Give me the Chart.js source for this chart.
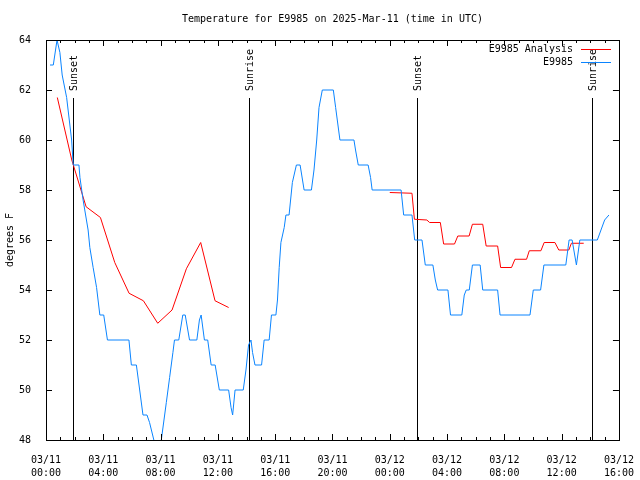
<!DOCTYPE html>
<html>
<head>
<meta charset="utf-8">
<title>Temperature for E9985</title>
<script src="https://cdn.jsdelivr.net/npm/chart.js@4"></script>
<style>
  html, body { margin: 0; padding: 0; background: #ffffff; }
  #chart { display: block; }
</style>
</head>
<body>
<canvas id="chart" width="640" height="480"></canvas>
<script>
// hours since 03/11 00:00 UTC
const chartTitle = 'Temperature for E9985 on 2025-Mar-11 (time in UTC)';
const yTitle = 'degrees F';

const tickDates = ['03/11', '03/11', '03/11', '03/11', '03/11', '03/11', '03/12', '03/12', '03/12', '03/12', '03/12'];
const tickTimes = ['00:00', '04:00', '08:00', '12:00', '16:00', '20:00', '00:00', '04:00', '08:00', '12:00', '16:00'];

const analysisHours = [0.79, 1.8, 2.8, 3.8, 4.8, 5.8, 6.8, 7.8, 8.8, 9.8, 10.8, 11.8, 12.75,
  18,
  24.0, 25.55, 25.72, 26.59, 26.78, 27.53, 27.76, 28.52, 28.75, 29.54,
  29.77, 30.49, 30.73, 31.53, 31.74, 32.5, 32.74, 33.55, 33.74, 34.55,
  34.78, 35.53, 35.8, 36.5, 36.68, 37.54];
const analysisTemps = [61.7, 59.2, 57.33, 56.9, 55.1, 53.87, 53.57, 52.67, 53.2, 54.85, 55.9, 53.57, 53.3,
  null,
  57.9, 57.87, 56.83, 56.8, 56.7, 56.7, 55.84, 55.84, 56.16, 56.16,
  56.63, 56.63, 55.76, 55.76, 54.9, 54.9, 55.23, 55.23, 55.57, 55.57,
  55.9, 55.9, 55.6, 55.6, 55.87, 55.87];

const stationHours = [0.28, 0.51, 0.77, 0.83, 0.97, 1.13, 1.44, 1.79, 1.90, 2.30,
  2.37, 2.59, 2.94, 3.06, 3.29, 3.53, 3.76, 4.03, 4.29, 5.79,
  5.96, 6.31, 6.54, 6.77, 7.05, 7.23, 7.53, 7.78, 8.05, 8.40,
  8.63, 8.86, 8.97, 9.27, 9.55, 9.72, 9.90, 10.02, 10.53, 10.71,
  10.83, 11.06, 11.29, 11.53, 11.81, 12.10, 12.75, 12.92, 13.03, 13.20,
  13.77, 13.96, 14.14, 14.31, 14.42, 14.59, 15.05, 15.23, 15.58, 15.74,
  16.05, 16.16, 16.28, 16.40, 16.63, 16.75, 16.97, 17.20, 17.48, 17.74,
  18.02, 18.53, 18.71, 18.90, 19.06, 19.29, 20.06, 20.22, 20.52, 21.50,
  21.61, 21.80, 22.49, 22.66, 22.77, 24.79, 24.97, 25.55, 25.74, 26.25,
  26.48, 27.01, 27.18, 27.34, 28.06, 28.24, 29.03, 29.20, 29.34, 29.55,
  29.77, 30.31, 30.49, 31.53, 31.70, 33.79, 34.02, 34.53, 34.76, 36.29,
  36.52, 36.73, 37.03, 37.27, 38.49, 39.00, 39.30];
const stationTemps = [63, 63, 64, 64, 63.5, 62.6, 61.7, 60, 59, 59,
  58.5, 57.6, 56.4, 55.7, 54.9, 54.1, 53, 53, 52, 52,
  51, 51, 50, 49, 49, 48.7, 48, 47.3, 48, 49.5,
  50.5, 51.5, 52, 52, 53, 53, 52.4, 52, 52, 52.8,
  53, 52, 52, 51, 51, 50, 50, 49.3, 49, 50,
  50, 50.8, 51.8, 52, 51.5, 51, 51, 52, 52, 53,
  53, 53.6, 54.9, 55.9, 56.5, 57, 57, 58.3, 59, 59,
  58, 58, 58.8, 60, 61.3, 62, 62, 61.3, 60, 60,
  59.6, 59, 59, 58.5, 58, 58, 57, 57, 56, 56,
  55, 55, 54.4, 54, 54, 53, 53, 53.8, 54, 54,
  55, 55, 54, 54, 53, 53, 54, 54, 55, 55,
  56, 56, 55, 56, 56, 56.8, 57];

const sunHours = [1.88, 14.14, 25.93, 38.12];
const sunLabels = ['Sunset', 'Sunrise', 'Sunset', 'Sunrise'];

document.addEventListener('DOMContentLoaded', function() {
    const FONT = '10px "DejaVu Sans Mono", "Liberation Mono", monospace';

    function toPoints(xs, ys) {
        return xs.map((x, i) => ({ x: x, y: ys[i] }));
    }

    // gnuplot style frame: border, inward ticks, sun markers, title and key
    const frame = {
        id: 'frame',
        beforeDatasetsDraw(chart) {
            const ctx = chart.ctx;
            const area = chart.chartArea;
            const xs = chart.scales.x;
            ctx.save();
            ctx.strokeStyle = '#000';
            ctx.lineWidth = 1;
            ctx.fillStyle = '#000';
            ctx.font = FONT;
            for (let i = 0; i < sunHours.length; i++) {
                const px = Math.round(xs.getPixelForValue(sunHours[i])) + 0.5;
                ctx.beginPath();
                ctx.moveTo(px, 98);
                ctx.lineTo(px, area.bottom);
                ctx.stroke();
                ctx.save();
                ctx.translate(px + 1, 91);
                ctx.rotate(-Math.PI / 2);
                ctx.textAlign = 'left';
                ctx.textBaseline = 'middle';
                ctx.fillText(sunLabels[i], 0, 0);
                ctx.restore();
            }
            ctx.restore();
        },
        afterDraw(chart) {
            const ctx = chart.ctx;
            const area = chart.chartArea;
            const xs = chart.scales.x;
            const ys = chart.scales.y;
            ctx.save();
            ctx.strokeStyle = '#000';
            ctx.lineWidth = 1;
            ctx.strokeRect(Math.round(area.left) + 0.5, Math.round(area.top) + 0.5,
                Math.round(area.right - area.left), Math.round(area.bottom - area.top));

            ctx.beginPath();
            for (let h = 0; h <= 40; h++) {
                const px = Math.round(xs.getPixelForValue(h)) + 0.5;
                const len = (h % 4 === 0) ? 6 : 3;
                ctx.moveTo(px, area.bottom);
                ctx.lineTo(px, area.bottom - len);
                ctx.moveTo(px, area.top);
                ctx.lineTo(px, area.top + len);
            }
            for (let v = 48; v <= 64; v += 2) {
                const py = Math.round(ys.getPixelForValue(v)) + 0.5;
                ctx.moveTo(area.left, py);
                ctx.lineTo(area.left + 6, py);
                ctx.moveTo(area.right, py);
                ctx.lineTo(area.right - 6, py);
            }
            ctx.stroke();

            ctx.fillStyle = '#000';
            ctx.font = FONT;
            ctx.textAlign = 'center';
            ctx.textBaseline = 'middle';
            ctx.fillText(chartTitle, (area.left + area.right) / 2, 19);

            // key
            const sets = chart.data.datasets;
            for (let i = 0; i < sets.length; i++) {
                const y = 49 + i * 13;
                ctx.textAlign = 'right';
                ctx.fillStyle = '#000';
                ctx.fillText(sets[i].label, 573, y);
                ctx.strokeStyle = sets[i].borderColor;
                ctx.beginPath();
                ctx.moveTo(581, y + 0.5);
                ctx.lineTo(611, y + 0.5);
                ctx.stroke();
            }
            ctx.restore();
        }
    };

    const ctx = document.getElementById('chart').getContext('2d');
    new Chart(ctx, {
        type: 'line',
        data: {
            datasets: [{
                label: 'E9985 Analysis',
                data: toPoints(analysisHours, analysisTemps),
                borderColor: '#ff0000',
                borderWidth: 1,
                pointRadius: 0,
                spanGaps: false,
                tension: 0,
                order: 1
            }, {
                label: 'E9985',
                data: toPoints(stationHours, stationTemps),
                borderColor: '#0a84ff',
                borderWidth: 1,
                pointRadius: 0,
                tension: 0,
                order: 0
            }]
        },
        options: {
            responsive: false,
            animation: false,
            devicePixelRatio: 1,
            layout: { padding: { top: 40, right: 19, left: 0, bottom: 0 } },
            plugins: {
                legend: { display: false },
                title: { display: false },
                tooltip: { enabled: false }
            },
            scales: {
                x: {
                    type: 'linear',
                    min: 0,
                    max: 40,
                    grid: { display: false },
                    border: { display: false },
                    afterFit: function(scale) { scale.height = 40; },
                    ticks: {
                        stepSize: 4,
                        maxRotation: 0,
                        autoSkip: false,
                        padding: 6,
                        color: '#000',
                        font: { family: '"DejaVu Sans Mono", monospace', size: 10, lineHeight: 1.3 },
                        callback: function(value) {
                            const i = Math.round(value / 4);
                            return [tickDates[i], tickTimes[i]];
                        }
                    }
                },
                y: {
                    min: 48,
                    max: 64,
                    grid: { display: false },
                    border: { display: false },
                    afterFit: function(scale) { scale.width = 46; },
                    title: {
                        display: true,
                        text: yTitle,
                        color: '#000',
                        font: { family: '"DejaVu Sans Mono", monospace', size: 10 }
                    },
                    ticks: {
                        stepSize: 2,
                        padding: 7,
                        color: '#000',
                        font: { family: '"DejaVu Sans Mono", monospace', size: 10 }
                    }
                }
            }
        },
        plugins: [frame]
    });
});
</script>
</body>
</html>
